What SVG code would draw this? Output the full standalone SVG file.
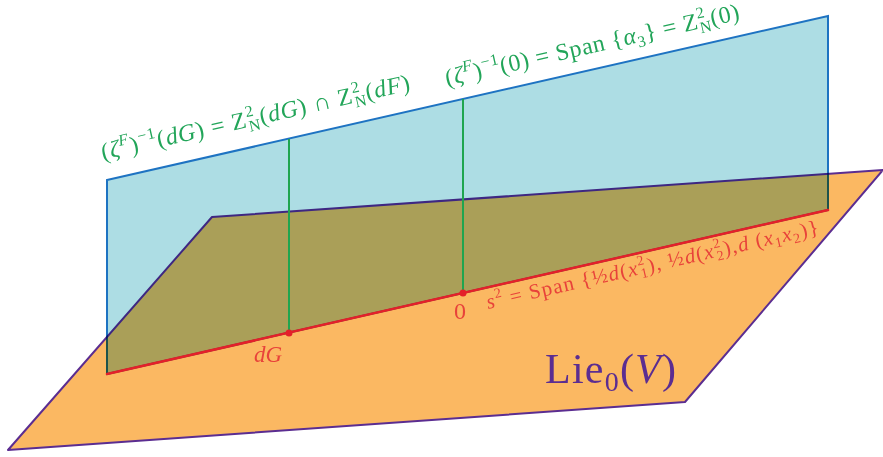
<svg xmlns="http://www.w3.org/2000/svg" width="883" height="457" viewBox="0 0 883 457">
<style>
.lab{font-family:"Liberation Serif","Times New Roman","DejaVu Serif",serif;}
.g{fill:#22A559;font-size:24px}
.r{fill:#E8423A;font-size:21px}
.p{fill:#5B2D91;font-size:42px}
.it{font-style:italic}
.sm{font-size:16px}
.rs{font-size:14px}
.green{stroke:#1FA54F;stroke-width:2;fill:none}
.dot{fill:#E4202A}
</style>
<rect width="883" height="457" fill="#fff"/>
<g id="lie-plane">
<polygon points="8,450 685,402 883,170 212,217" fill="#FBB862" stroke="#5B2D91" stroke-width="2" stroke-linejoin="round"/>
</g>
<g id="fiber-plane" style="mix-blend-mode:multiply">
<polygon points="107,180 828,16 828,210 107,374" fill="#ADDDE4" stroke="#1E73C2" stroke-width="2"/>
</g>
<g id="connectors">
<line class="green" x1="289" y1="139" x2="289" y2="333"/>
<line class="green" x1="463" y1="99" x2="463" y2="293"/>
<line x1="107" y1="374" x2="828" y2="210" stroke="#E4202A" stroke-width="2.5" stroke-linecap="round"/>
<circle class="dot" cx="289" cy="333" r="3.5"/>
<circle class="dot" cx="463" cy="293" r="3.5"/>
</g>
<g id="label-dG">
<text class="lab r it" x="268" y="362" text-anchor="middle" style="font-size:23px">dG</text>
</g>
<g id="label-0">
<text class="lab r" x="460" y="319" text-anchor="middle" style="font-size:24px">0</text>
</g>
<g id="label-fiber-dG">
<text class="lab g" transform="translate(103,160) rotate(-12.8)" textLength="316" lengthAdjust="spacing">(<tspan class="it">ζ</tspan><tspan class="sm it" dy="-10">F</tspan><tspan dy="10">)</tspan><tspan class="sm" dy="-10">−1</tspan><tspan dy="10">(</tspan><tspan class="it">dG</tspan><tspan>) = Z</tspan><tspan class="sm" dy="-10">2</tspan><tspan class="sm" dx="-8" dy="15">N</tspan><tspan dy="-5">(</tspan><tspan class="it">dG</tspan><tspan>) ∩ Z</tspan><tspan class="sm" dy="-10">2</tspan><tspan class="sm" dx="-8" dy="15">N</tspan><tspan dy="-5">(</tspan><tspan class="it">dF</tspan><tspan>)</tspan></text>
</g>
<g id="label-fiber-0">
<text class="lab g" transform="translate(447,86) rotate(-12.8)" textLength="301" lengthAdjust="spacing">(<tspan class="it">ζ</tspan><tspan class="sm it" dy="-10">F</tspan><tspan dy="10">)</tspan><tspan class="sm" dy="-10">−1</tspan><tspan dy="10">(0) = Span {</tspan><tspan class="it">α</tspan><tspan class="sm" dy="5">3</tspan><tspan dy="-5">} = Z</tspan><tspan class="sm" dy="-10">2</tspan><tspan class="sm" dx="-8" dy="15">N</tspan><tspan dy="-5">(0)</tspan></text>
</g>
<g id="label-s2">
<text class="lab r" transform="translate(488,309) rotate(-12.8)" textLength="340" lengthAdjust="spacing"><tspan class="it">s</tspan><tspan class="rs" dy="-9">2</tspan><tspan dy="9"> = Span {½</tspan><tspan class="it">d</tspan><tspan>(</tspan><tspan class="it">x</tspan><tspan class="rs" dy="-9">2</tspan><tspan class="rs" dx="-7" dy="13">1</tspan><tspan dy="-4">), ½</tspan><tspan class="it">d</tspan><tspan>(</tspan><tspan class="it">x</tspan><tspan class="rs" dy="-9">2</tspan><tspan class="rs" dx="-7" dy="13">2</tspan><tspan dy="-4">),</tspan><tspan class="it">d</tspan><tspan> (</tspan><tspan class="it">x</tspan><tspan class="rs" dy="4">1</tspan><tspan class="it" dy="-4">x</tspan><tspan class="rs" dy="4">2</tspan><tspan dy="-4">)}</tspan></text>
</g>
<g id="label-lie">
<text class="lab p" x="545" y="383" textLength="131" lengthAdjust="spacing">Lie<tspan style="font-size:28px" dy="8">0</tspan><tspan dy="-8">(</tspan><tspan class="it">V</tspan><tspan>)</tspan></text>
</g>
</svg>
